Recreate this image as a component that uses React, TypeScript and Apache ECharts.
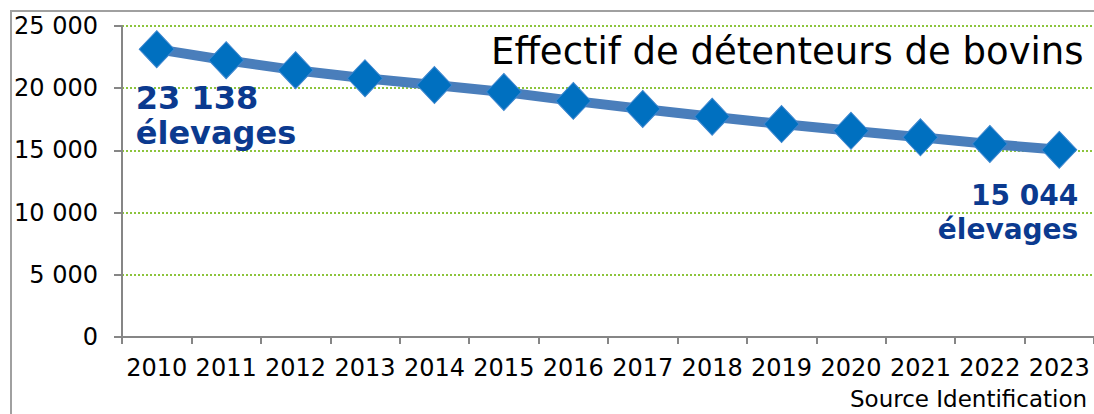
import React, { useEffect, useRef } from "react";
import * as echarts from "echarts";

const years = ["2010", "2011", "2012", "2013", "2014", "2015", "2016", "2017", "2018", "2019", "2020", "2021", "2022", "2023"];
const holders = [23138, 22250, 21450, 20800, 20250, 19700, 18980, 18330, 17710, 17120, 16580, 16050, 15520, 15044];
const yTicks = [0, 5000, 10000, 15000, 20000, 25000];
const titleText = "Effectif de détenteurs de bovins";
const sourceText = "Source Identification";
const unitText = "élevages";

const fmt = (v: number) => String(v).replace(/\B(?=(\d{3})+(?!\d))/g, " ");
const FONT = "'DejaVu Sans', Verdana, sans-serif";

export default function App() {
  const ref = useRef<HTMLDivElement>(null);
  useEffect(() => {
    if (!ref.current) return;
    const chart = echarts.init(ref.current, undefined, { renderer: "svg" });
    const last = holders.length - 1;
    const data = holders.map((v, i) => {
      if (i === 0) {
        return {
          value: v,
          label: {
            show: true,
            position: "bottom",
            distance: 12,
            align: "left",
            offset: [-21, 0],
            formatter: () => `${fmt(v)}\n${unitText}`,
            fontFamily: FONT,
            fontWeight: "bold",
            fontSize: 32,
            lineHeight: 35,
            color: "#0b3a8f",
          },
        };
      }
      if (i === last) {
        return {
          value: v,
          label: {
            show: true,
            position: "bottom",
            distance: 10,
            align: "right",
            offset: [19, 0],
            formatter: () => `${fmt(v)}\n${unitText}`,
            fontFamily: FONT,
            fontWeight: "bold",
            fontSize: 28,
            lineHeight: 34,
            color: "#0b3a8f",
          },
        };
      }
      return v;
    });
    chart.setOption({
      animation: false,
      backgroundColor: "#ffffff",
      title: {
        text: titleText,
        left: 486,
        top: 28,
        textStyle: { fontFamily: FONT, fontSize: 37, fontWeight: "normal", color: "#000" },
      },
      graphic: [
        {
          type: "rect",
          shape: { x: 11, y: 11, width: 1300, height: 600 },
          style: { fill: "none", stroke: "#a0a0a0", lineWidth: 2 },
          silent: true,
        },
        {
          type: "text",
          x: 850,
          y: 387,
          style: { text: sourceText, fontFamily: FONT, fontSize: 23, fill: "#000" },
          silent: true,
        },
      ],
      grid: { left: 122, top: 26, width: 975, height: 311, containLabel: false },
      xAxis: {
        type: "category",
        data: years,
        boundaryGap: true,
        axisLine: { show: true, lineStyle: { color: "#868686", width: 2 } },
        axisTick: { show: true, length: 7, lineStyle: { color: "#868686", width: 2 } },
        axisLabel: { fontFamily: FONT, fontSize: 24, color: "#000", margin: 19, interval: 0 },
        splitLine: { show: false },
      },
      yAxis: {
        type: "value",
        min: 0,
        max: 25000,
        interval: 5000,
        axisLine: { show: true, lineStyle: { color: "#868686", width: 2 } },
        axisTick: { show: true, length: 8, lineStyle: { color: "#868686", width: 2 } },
        axisLabel: {
          fontFamily: FONT,
          fontSize: 24,
          color: "#000",
          margin: 24,
          formatter: (v: number) => (yTicks.includes(v) ? fmt(v) : ""),
        },
        splitLine: { show: true, lineStyle: { color: "#8cc43c", width: 2, type: [2, 2] } },
      },
      series: [
        {
          type: "line",
          data,
          symbol: "diamond",
          symbolSize: [35, 37],
          lineStyle: { color: "#4a7ebb", width: 10 },
          itemStyle: { color: "#0070c0", borderColor: "#3d86cf", borderWidth: 1 },
          z: 3,
        },
      ],
    });
    return () => chart.dispose();
  }, []);
  return (
    <div
      ref={ref}
      style={{ position: "absolute", left: 0, top: 0, width: 1094, height: 414 }}
    />
  );
}
